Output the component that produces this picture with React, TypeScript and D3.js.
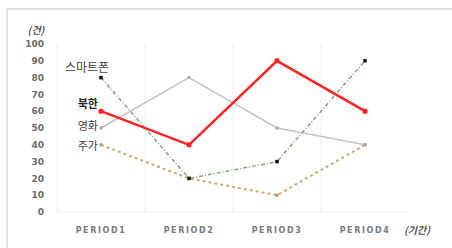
import * as d3 from "d3";

const periods = ["PERIOD1", "PERIOD2", "PERIOD3", "PERIOD4"];
const yTicks = [0, 10, 20, 30, 40, 50, 60, 70, 80, 90, 100];
const smartphone = [80, 20, 30, 90];
const northKorea = [60, 40, 90, 60];
const movie = [50, 80, 50, 40];
const stock = [40, 20, 10, 40];

const series = [
  { name: "주가", values: stock, color: "#c8ad72", width: 2, dash: "3,3", marker: "#b89a5a", ms: 3, bold: false },
  { name: "영화", values: movie, color: "#c4c4c4", width: 1.5, dash: null, marker: "#a8a8a8", ms: 3, bold: false },
  { name: "스마트폰", values: smartphone, color: "#86a47a", width: 1.5, dash: "4,2,1,2", marker: "#111", ms: 3.5, bold: false },
  { name: "북한", values: northKorea, color: "#ff2424", width: 2.5, dash: null, marker: "#ff2424", ms: 5, bold: true },
];

export default function App() {
  const width = 452;
  const height = 248;
  const left = 57, right = 409, top = 44, bottom = 212;
  const x = d3.scaleBand<string>().domain(periods).range([left, right]);
  const y = d3.scaleLinear().domain([0, 100]).range([bottom, top]);
  const cx = (i: number) => (x(periods[i]) as number) + x.bandwidth() / 2;
  const line = d3.line<number>().x((_, i) => cx(i)).y((d) => y(d));
  const kr = "'Noto Sans CJK KR', 'Noto Sans', sans-serif";

  return (
    <svg width={width} height={height} style={{ position: "absolute", left: 0, top: 0, background: "#fff" }}>
      <rect x={7} y={9} width={500} height={300} fill="#fff" stroke="#d9d9d9" strokeWidth={1.5} />
      {periods.map((p) => (
        <line key={p} x1={x(p)} x2={x(p)} y1={top} y2={bottom} stroke="#efefef" strokeWidth={1} />
      ))}
      <line x1={left} x2={right} y1={bottom} y2={bottom} stroke="#efefef" />
      {yTicks.map((t) => (
        <text key={t} x={44} y={y(t)} dy="0.35em" textAnchor="end" fontSize={9} fontWeight="bold"
          fill="#6b6b6b" fontFamily="'DejaVu Sans', sans-serif">{t}</text>
      ))}
      <text x={36} y={30} dy="0.35em" textAnchor="middle" fontSize={10} fontStyle="italic" fontWeight="bold" fill="#555" fontFamily={kr}>(건)</text>
      {periods.map((p, i) => (
        <text key={p} x={cx(i)} y={230} dy="0.35em" textAnchor="middle" fontSize={8} fontWeight="bold"
          letterSpacing={1.6} fill="#7a7a7a" fontFamily="'DejaVu Sans', sans-serif">{p}</text>
      ))}
      <text x={417} y={230} dy="0.35em" textAnchor="middle" fontSize={10} fontStyle="italic" fontWeight="bold" fill="#555" fontFamily={kr}>(기간)</text>
      {series.map((s) => (
        <g key={s.name}>
          <path d={line(s.values) as string} fill="none" stroke={s.color} strokeWidth={s.width}
            strokeDasharray={s.dash ?? undefined} />
          {s.values.map((v, i) => (
            <rect key={i} x={cx(i) - s.ms / 2} y={y(v) - s.ms / 2} width={s.ms} height={s.ms}
              rx={s.bold ? 1.5 : 0} fill={s.marker} />
          ))}
        </g>
      ))}
      <text x={87} y={68} dy="0.35em" textAnchor="middle" fontSize={12} fill="#404040" fontFamily={kr}>스마트폰</text>
      <text x={98} y={y(northKorea[0]) - 7} dy="0.35em" textAnchor="end" fontSize={11} fontWeight="bold" fill="#222" fontFamily={kr}>북한</text>
      <text x={98} y={y(movie[0]) - 2} dy="0.35em" textAnchor="end" fontSize={11} fill="#404040" fontFamily={kr}>영화</text>
      <text x={98} y={y(stock[0]) + 1} dy="0.35em" textAnchor="end" fontSize={11} fill="#404040" fontFamily={kr}>주가</text>
    </svg>
  );
}
